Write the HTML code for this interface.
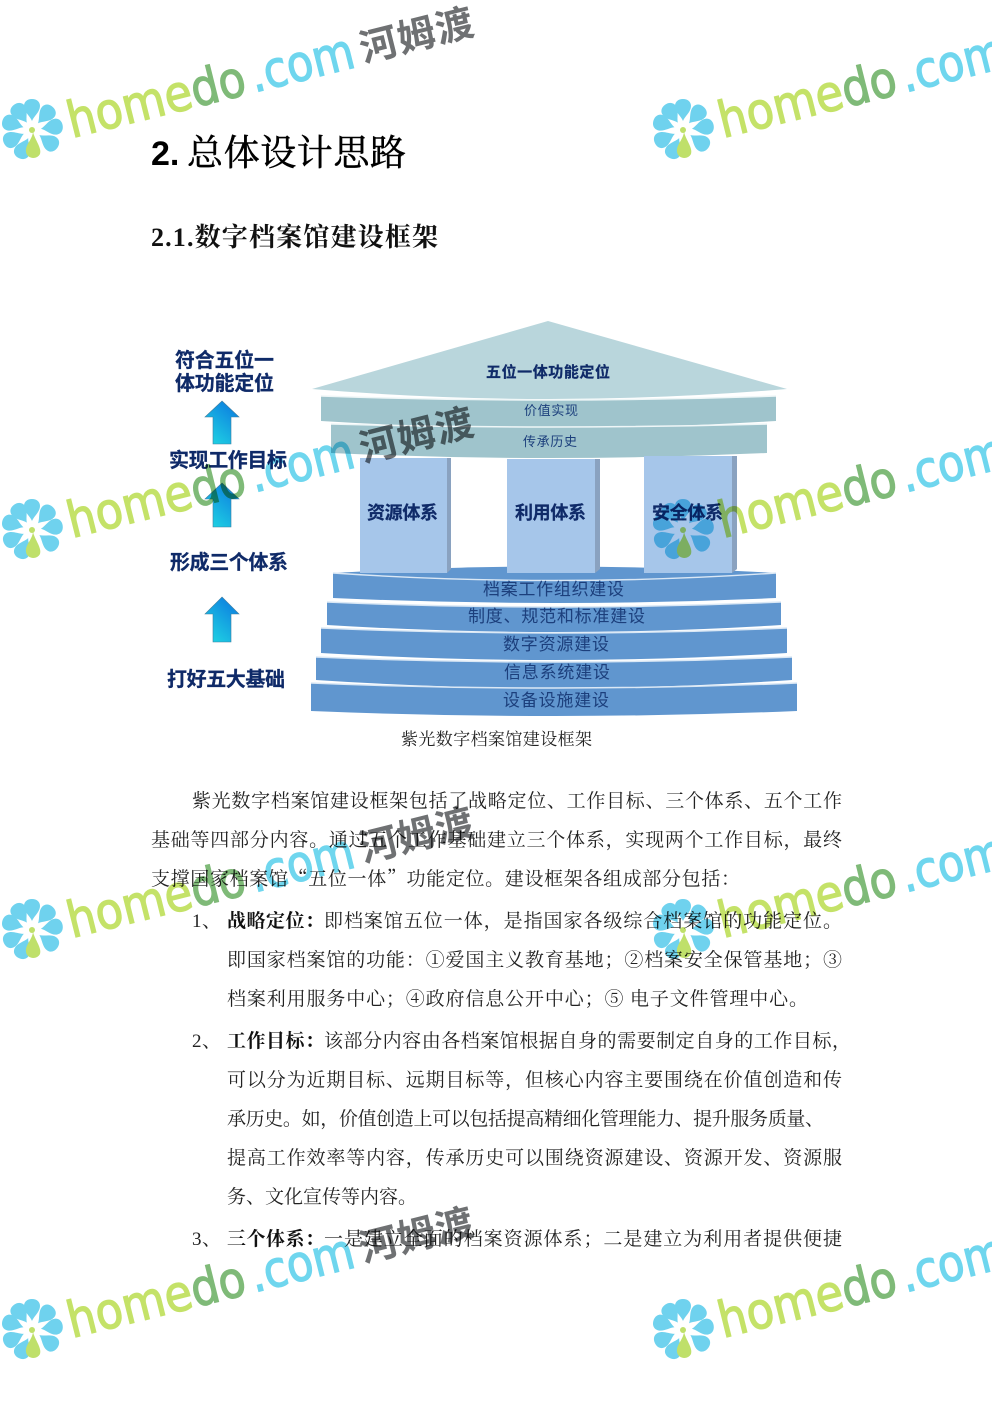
<!DOCTYPE html>
<html lang="zh"><head><meta charset="utf-8"><title>总体设计思路</title>
<style>
html,body{margin:0;padding:0;background:#fff}
svg{display:block}
.s{font-family:"Noto Serif CJK SC","Liberation Serif",serif;font-size:19px;fill:#222}
.n{font-family:"Liberation Serif",serif;font-size:19px;fill:#222}
.b{font-weight:700;fill:#111}
.d{font-family:"Liberation Sans","Noto Sans CJK SC",sans-serif;font-weight:700;fill:#0f2a68;stroke:#0f2a68;stroke-width:.25}
.t{font-family:"Liberation Sans","Noto Sans CJK SC",sans-serif;fill:#1c3f7c;font-size:17px}
.w{font-family:"DejaVu Sans",sans-serif;font-size:50px;stroke-width:1.3}
.l{fill:#c4e268;stroke:#c4e268}.g{fill:#7fba78;stroke:#7fba78}.c{fill:#6fd6ee;stroke:#6fd6ee}
.h{font-family:"Liberation Sans","Noto Sans CJK SC",sans-serif;font-weight:700;font-size:38px;fill:#6f7173}
.wm{mix-blend-mode:multiply}
</style></head><body>
<svg width="992" height="1403" viewBox="0 0 992 1403" xmlns="http://www.w3.org/2000/svg">
<defs>
<linearGradient id="ar" x1="0.9" y1="0" x2="0.2" y2="1"><stop offset="0" stop-color="#0b78e0"/><stop offset="1" stop-color="#1fd2e2"/></linearGradient>
<g id="flower">
<path id="p" d="M0,-9 C-2,-14 -8,-18 -8,-24 C-8,-28 -5,-31 0,-31 C5,-31 8,-28 8,-24 C8,-18 2,-14 0,-9Z" fill="#6fd2ee"/>
<use href="#p" transform="rotate(42)"/><use href="#p" transform="rotate(82)"/><use href="#p" transform="rotate(125)"/>
<use href="#p" transform="rotate(-155)"/><use href="#p" transform="rotate(-115)"/><use href="#p" transform="rotate(-72)"/><use href="#p" transform="rotate(-35)"/>
<path d="M1,2 C0,10 -7,15 -6,22 C-5,29 5,30 8,24 C10,18 3,10 1,2Z" fill="#bfe06a"/>
<circle cx="0" cy="0" r="3" fill="#bfe06a"/>
</g>
</defs>
<rect width="992" height="1403" fill="#fff"/>

<!-- headings -->
<text x="151" y="165" font-family="'Liberation Sans',sans-serif" font-size="34" font-weight="700" fill="#000">2.</text>
<text x="187" y="165" font-family="'Noto Serif CJK SC',serif" font-size="36" font-weight="400" fill="#000" stroke="#000" stroke-width=".5" textLength="219">总体设计思路</text>
<text x="151" y="246" font-family="'Liberation Serif','Noto Serif CJK SC',serif" font-size="26" font-weight="700" fill="#111" textLength="287">2.1.数字档案馆建设框架</text>

<!-- left labels -->
<text class="d" x="175" y="367" font-size="20" textLength="99">符合五位一</text>
<text class="d" x="175" y="390" font-size="20" textLength="99">体功能定位</text>
<text class="d" x="169" y="467" font-size="20" textLength="118">实现工作目标</text>
<text class="d" x="170" y="569" font-size="20" textLength="118">形成三个体系</text>
<text class="d" x="167" y="686" font-size="20" textLength="118">打好五大基础</text>

<!-- arrows -->
<path d="M222,401 L239,417 L231,417 L231,444 L213,444 L213,417 L205,417Z" fill="url(#ar)" stroke="#3f7fa0" stroke-width="0.6"/>
<path d="M222,483 L239,499 L231,499 L231,527 L213,527 L213,499 L205,499Z" fill="url(#ar)" stroke="#3f7fa0" stroke-width="0.6"/>
<path d="M222,597 L239,614 L231,614 L231,642 L213,642 L213,614 L205,614Z" fill="url(#ar)" stroke="#3f7fa0" stroke-width="0.6"/>

<!-- roof -->
<path d="M548,321 L787,389 Q548,409 312,389Z" fill="#b9d6dc"/>
<!-- bands -->
<path d="M321,396 Q548,404 776,396 L776,421 Q548,435 321,421Z" fill="#9fc4cc"/>
<path d="M321,396 Q548,404 776,396" fill="none" stroke="#eef6f7" stroke-width="1.5"/>
<path d="M331,424 Q548,430 767,424 L767,453 Q548,463 331,453Z" fill="#9fc4cc"/>
<path d="M331,424 Q548,430 767,424" fill="none" stroke="#eef6f7" stroke-width="1.5"/>

<!-- steps -->
<path d="M333,573 Q555,560 776,573 L776,598 Q555,608 333,598Z" fill="#6096cf"/>
<path d="M333,573 Q555,588 776,573" fill="none" stroke="#dbe8f5" stroke-width="1.4"/>
<path d="M327,602 Q555,612 781,602 L781,625 Q555,639 327,625Z" fill="#6096cf"/>
<path d="M327,602 Q555,612 781,602" fill="none" stroke="#dbe8f5" stroke-width="1.5"/>
<path d="M321,628 Q555,638 787,628 L787,653 Q555,667 321,653Z" fill="#6096cf"/>
<path d="M321,628 Q555,638 787,628" fill="none" stroke="#dbe8f5" stroke-width="1.5"/>
<path d="M316,657 Q555,667 792,657 L792,680 Q555,696 316,680Z" fill="#6096cf"/>
<path d="M316,657 Q555,667 792,657" fill="none" stroke="#dbe8f5" stroke-width="1.5"/>
<path d="M311,683 Q555,693 797,683 L797,711 Q555,721 311,711Z" fill="#6096cf"/>
<path d="M311,683 Q555,693 797,683" fill="none" stroke="#dbe8f5" stroke-width="1.5"/>

<!-- pillars -->
<rect x="360" y="458" width="87" height="115" fill="#a6c6ea"/><path d="M447,458 L451,458 L451,569 L447,573Z" fill="#8aa2c0"/>
<rect x="507" y="459" width="88" height="114" fill="#a6c6ea"/><path d="M595,459 L600,459 L600,569 L595,573Z" fill="#8aa2c0"/>
<rect x="644" y="456" width="88" height="117" fill="#a6c6ea"/><path d="M732,456 L737,456 L737,569 L732,573Z" fill="#8aa2c0"/>

<!-- diagram text -->
<text class="d" x="486" y="377" font-size="15" textLength="124">五位一体功能定位</text>
<text class="t" x="524" y="415" style="font-size:13px" textLength="54">价值实现</text>
<text class="t" x="523" y="446" style="font-size:13px" textLength="54">传承历史</text>
<text class="d" x="367" y="519" font-size="18" textLength="71">资源体系</text>
<text class="d" x="515" y="519" font-size="18" textLength="71">利用体系</text>
<text class="d" x="652" y="519" font-size="18" textLength="71">安全体系</text>
<text class="t" x="483" y="595" textLength="141">档案工作组织建设</text>
<text class="t" x="468" y="622" textLength="177">制度、规范和标准建设</text>
<text class="t" x="503" y="650" textLength="106">数字资源建设</text>
<text class="t" x="504" y="678" textLength="106">信息系统建设</text>
<text class="t" x="503" y="706" textLength="106">设备设施建设</text>

<text class="s" x="401" y="745" style="font-size:17px" textLength="191">紫光数字档案馆建设框架</text>

<!-- body -->
<text class="s" x="192" y="807" textLength="650">紫光数字档案馆建设框架包括了战略定位、工作目标、三个体系、五个工作</text>
<text class="s" x="151" y="846" textLength="691">基础等四部分内容。通过五个工作基础建立三个体系，实现两个工作目标，最终</text>
<text class="s" x="151" y="885" textLength="589">支撑国家档案馆“五位一体”功能定位。建设框架各组成部分包括：</text>

<text class="n" x="192" y="927">1</text><text class="s" x="202" y="927">、</text>
<text class="s b" x="227" y="927" textLength="97">战略定位：</text>
<text class="s" x="324" y="927" textLength="518">即档案馆五位一体，是指国家各级综合档案馆的功能定位。</text>
<text class="s" x="227" y="966" textLength="615">即国家档案馆的功能：①爱国主义教育基地；②档案安全保管基地；③</text>
<text class="s" x="227" y="1005" textLength="581">档案利用服务中心；④政府信息公开中心；⑤ 电子文件管理中心。</text>

<text class="n" x="192" y="1047">2</text><text class="s" x="202" y="1047">、</text>
<text class="s b" x="227" y="1047" textLength="97">工作目标：</text>
<text class="s" x="324" y="1047" textLength="527">该部分内容由各档案馆根据自身的需要制定自身的工作目标，</text>
<text class="s" x="227" y="1086" textLength="615">可以分为近期目标、远期目标等，但核心内容主要围绕在价值创造和传</text>
<text class="s" x="227" y="1125" textLength="597">承历史。如，价值创造上可以包括提高精细化管理能力、提升服务质量、</text>
<text class="s" x="227" y="1164" textLength="615">提高工作效率等内容，传承历史可以围绕资源建设、资源开发、资源服</text>
<text class="s" x="227" y="1203" textLength="190">务、文化宣传等内容。</text>

<text class="n" x="192" y="1245">3</text><text class="s" x="202" y="1245">、</text>
<text class="s b" x="227" y="1245" textLength="97">三个体系：</text>
<text class="s" x="324" y="1245" textLength="518">一是建立全面的档案资源体系；二是建立为利用者提供便捷</text>

<!-- watermarks -->
<g class="wm">
<use href="#flower" x="32" y="130"/><use href="#flower" x="683" y="130"/>
<use href="#flower" x="32" y="530"/><use href="#flower" x="683" y="530"/>
<use href="#flower" x="32" y="930"/><use href="#flower" x="683" y="930"/>
<use href="#flower" x="32" y="1330"/><use href="#flower" x="683" y="1330"/>
<g transform="translate(72,138) rotate(-14)"><text class="w l" textLength="127" lengthAdjust="spacingAndGlyphs">home</text><text class="w g" x="127" textLength="55" lengthAdjust="spacingAndGlyphs">do</text><text class="w c" x="188" textLength="106" lengthAdjust="spacingAndGlyphs">.com</text><text class="h" x="301" y="-3" textLength="116">河姆渡</text></g>
<g transform="translate(723,138) rotate(-14)"><text class="w l" textLength="127" lengthAdjust="spacingAndGlyphs">home</text><text class="w g" x="127" textLength="55" lengthAdjust="spacingAndGlyphs">do</text><text class="w c" x="188" textLength="106" lengthAdjust="spacingAndGlyphs">.com</text></g>
<g transform="translate(72,538) rotate(-14)"><text class="w l" textLength="127" lengthAdjust="spacingAndGlyphs">home</text><text class="w g" x="127" textLength="55" lengthAdjust="spacingAndGlyphs">do</text><text class="w c" x="188" textLength="106" lengthAdjust="spacingAndGlyphs">.com</text><text class="h" x="301" y="-3" textLength="116">河姆渡</text></g>
<g transform="translate(723,538) rotate(-14)"><text class="w l" textLength="127" lengthAdjust="spacingAndGlyphs">home</text><text class="w g" x="127" textLength="55" lengthAdjust="spacingAndGlyphs">do</text><text class="w c" x="188" textLength="106" lengthAdjust="spacingAndGlyphs">.com</text></g>
<g transform="translate(72,938) rotate(-14)"><text class="w l" textLength="127" lengthAdjust="spacingAndGlyphs">home</text><text class="w g" x="127" textLength="55" lengthAdjust="spacingAndGlyphs">do</text><text class="w c" x="188" textLength="106" lengthAdjust="spacingAndGlyphs">.com</text><text class="h" x="301" y="-3" textLength="116">河姆渡</text></g>
<g transform="translate(723,938) rotate(-14)"><text class="w l" textLength="127" lengthAdjust="spacingAndGlyphs">home</text><text class="w g" x="127" textLength="55" lengthAdjust="spacingAndGlyphs">do</text><text class="w c" x="188" textLength="106" lengthAdjust="spacingAndGlyphs">.com</text></g>
<g transform="translate(72,1338) rotate(-14)"><text class="w l" textLength="127" lengthAdjust="spacingAndGlyphs">home</text><text class="w g" x="127" textLength="55" lengthAdjust="spacingAndGlyphs">do</text><text class="w c" x="188" textLength="106" lengthAdjust="spacingAndGlyphs">.com</text><text class="h" x="301" y="-3" textLength="116">河姆渡</text></g>
<g transform="translate(723,1338) rotate(-14)"><text class="w l" textLength="127" lengthAdjust="spacingAndGlyphs">home</text><text class="w g" x="127" textLength="55" lengthAdjust="spacingAndGlyphs">do</text><text class="w c" x="188" textLength="106" lengthAdjust="spacingAndGlyphs">.com</text></g>
</g>
</svg>
</body></html>
